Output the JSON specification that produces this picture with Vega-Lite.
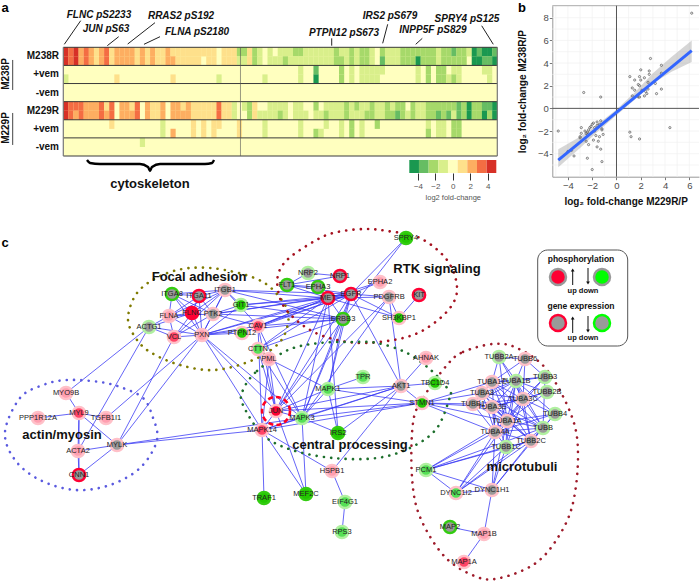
{"$schema":"https://vega.github.io/schema/vega-lite/v6.json","width":700,"height":581,"autosize":{"type":"none"},"padding":0,"background":"white","config":{"view":{"stroke":null},"font":"Liberation Sans"},
"datasets":{
"cells":[
{"c":0,"r":0,"v":4},{"c":1,"r":0,"v":3},{"c":2,"r":0,"v":4},{"c":3,"r":0,"v":2},{"c":4,"r":0,"v":3},{"c":5,"r":0,"v":2},{"c":6,"r":0,"v":1},{"c":7,"r":0,"v":2},{"c":8,"r":0,"v":3},{"c":9,"r":0,"v":1},{"c":10,"r":0,"v":2},{"c":11,"r":0,"v":2},{"c":12,"r":0,"v":2},{"c":13,"r":0,"v":2},{"c":14,"r":0,"v":1},{"c":15,"r":0,"v":2},{"c":16,"r":0,"v":1},{"c":17,"r":0,"v":2},{"c":18,"r":0,"v":1},{"c":19,"r":0,"v":1},{"c":20,"r":0,"v":2},{"c":21,"r":0,"v":1},{"c":22,"r":0,"v":1},{"c":23,"r":0,"v":1},{"c":24,"r":0,"v":1},{"c":25,"r":0,"v":1},{"c":26,"r":0,"v":1},{"c":27,"r":0,"v":1},{"c":28,"r":0,"v":1},{"c":29,"r":0,"v":1},{"c":31,"r":0,"v":1},{"c":32,"r":0,"v":1},{"c":33,"r":0,"v":1},{"c":34,"r":0,"v":-2},{"c":35,"r":0,"v":-2},{"c":36,"r":0,"v":1},{"c":37,"r":0,"v":-2},{"c":38,"r":0,"v":-1},{"c":40,"r":0,"v":-1},{"c":42,"r":0,"v":-1},{"c":43,"r":0,"v":-1},{"c":44,"r":0,"v":-1},{"c":45,"r":0,"v":-2},{"c":46,"r":0,"v":-2},{"c":47,"r":0,"v":-1},{"c":48,"r":0,"v":-1},{"c":49,"r":0,"v":-1},{"c":50,"r":0,"v":-1},{"c":51,"r":0,"v":-1},{"c":52,"r":0,"v":-1},{"c":53,"r":0,"v":-2},{"c":54,"r":0,"v":-1},{"c":55,"r":0,"v":-1},{"c":56,"r":0,"v":-2},{"c":57,"r":0,"v":-1},{"c":58,"r":0,"v":-2},{"c":59,"r":0,"v":-2},{"c":60,"r":0,"v":-1},{"c":62,"r":0,"v":-2},{"c":63,"r":0,"v":-1},{"c":64,"r":0,"v":-1},{"c":65,"r":0,"v":-1},{"c":66,"r":0,"v":-2},{"c":67,"r":0,"v":-2},{"c":68,"r":0,"v":-2},{"c":69,"r":0,"v":-2},{"c":70,"r":0,"v":-2},{"c":71,"r":0,"v":-2},{"c":72,"r":0,"v":-2},{"c":73,"r":0,"v":-1},{"c":74,"r":0,"v":-2},{"c":75,"r":0,"v":-2},{"c":76,"r":0,"v":-3},{"c":77,"r":0,"v":-2},{"c":78,"r":0,"v":-2},{"c":79,"r":0,"v":-1},{"c":80,"r":0,"v":-4},{"c":81,"r":0,"v":-3},{"c":82,"r":0,"v":-4},{"c":83,"r":0,"v":-4},{"c":84,"r":0,"v":-3},
{"c":0,"r":1,"v":4},{"c":1,"r":1,"v":3},{"c":2,"r":1,"v":4},{"c":3,"r":1,"v":2},{"c":4,"r":1,"v":3},{"c":5,"r":1,"v":2},{"c":6,"r":1,"v":1},{"c":7,"r":1,"v":2},{"c":8,"r":1,"v":3},{"c":9,"r":1,"v":1},{"c":10,"r":1,"v":2},{"c":11,"r":1,"v":2},{"c":12,"r":1,"v":2},{"c":13,"r":1,"v":2},{"c":14,"r":1,"v":1},{"c":15,"r":1,"v":2},{"c":16,"r":1,"v":1},{"c":17,"r":1,"v":2},{"c":18,"r":1,"v":1},{"c":19,"r":1,"v":1},{"c":20,"r":1,"v":2},{"c":21,"r":1,"v":2},{"c":22,"r":1,"v":1},{"c":23,"r":1,"v":1},{"c":24,"r":1,"v":1},{"c":25,"r":1,"v":1},{"c":26,"r":1,"v":1},{"c":28,"r":1,"v":1},{"c":29,"r":1,"v":1},{"c":31,"r":1,"v":1},{"c":32,"r":1,"v":1},{"c":33,"r":1,"v":1},{"c":34,"r":1,"v":-1},{"c":35,"r":1,"v":-1},{"c":36,"r":1,"v":1},{"c":37,"r":1,"v":-2},{"c":38,"r":1,"v":-1},{"c":40,"r":1,"v":-1},{"c":41,"r":1,"v":-1},{"c":42,"r":1,"v":-1},{"c":43,"r":1,"v":-2},{"c":44,"r":1,"v":-1},{"c":45,"r":1,"v":-1},{"c":46,"r":1,"v":-1},{"c":47,"r":1,"v":-1},{"c":48,"r":1,"v":-1},{"c":49,"r":1,"v":-1},{"c":50,"r":1,"v":-1},{"c":51,"r":1,"v":-1},{"c":52,"r":1,"v":-1},{"c":53,"r":1,"v":-2},{"c":54,"r":1,"v":-2},{"c":55,"r":1,"v":-1},{"c":56,"r":1,"v":-2},{"c":57,"r":1,"v":-1},{"c":58,"r":1,"v":-2},{"c":59,"r":1,"v":-2},{"c":60,"r":1,"v":-1},{"c":62,"r":1,"v":-3},{"c":63,"r":1,"v":-1},{"c":64,"r":1,"v":-1},{"c":65,"r":1,"v":-1},{"c":66,"r":1,"v":-2},{"c":67,"r":1,"v":-2},{"c":68,"r":1,"v":-2},{"c":69,"r":1,"v":-4},{"c":70,"r":1,"v":-2},{"c":71,"r":1,"v":-2},{"c":72,"r":1,"v":-2},{"c":73,"r":1,"v":-1},{"c":74,"r":1,"v":-2},{"c":75,"r":1,"v":-2},{"c":76,"r":1,"v":-2},{"c":77,"r":1,"v":-2},{"c":78,"r":1,"v":-2},{"c":80,"r":1,"v":-4},{"c":81,"r":1,"v":-4},{"c":82,"r":1,"v":-3},{"c":83,"r":1,"v":-3},{"c":84,"r":1,"v":-4},
{"c":46,"r":2,"v":-1},{"c":49,"r":2,"v":-3},{"c":54,"r":2,"v":-2},{"c":56,"r":2,"v":-1},{"c":58,"r":2,"v":-1},{"c":59,"r":2,"v":-1},{"c":60,"r":2,"v":-1},{"c":61,"r":2,"v":-1},{"c":62,"r":2,"v":-1},{"c":69,"r":2,"v":-1},{"c":71,"r":2,"v":-2},{"c":73,"r":2,"v":-2},{"c":74,"r":2,"v":-2},{"c":76,"r":2,"v":-1},{"c":77,"r":2,"v":-1},{"c":82,"r":2,"v":-1},{"c":83,"r":2,"v":-1},
{"c":0,"r":3,"v":-1},{"c":10,"r":3,"v":1},{"c":21,"r":3,"v":1},{"c":30,"r":3,"v":-1},{"c":39,"r":3,"v":-1},{"c":46,"r":3,"v":-1},{"c":49,"r":3,"v":-4},{"c":54,"r":3,"v":-2},{"c":56,"r":3,"v":-1},{"c":58,"r":3,"v":-1},{"c":59,"r":3,"v":-1},{"c":60,"r":3,"v":-1},{"c":61,"r":3,"v":-1},{"c":69,"r":3,"v":-1},{"c":71,"r":3,"v":-2},{"c":73,"r":3,"v":-2},{"c":74,"r":3,"v":-2},{"c":75,"r":3,"v":-1},{"c":76,"r":3,"v":-2},{"c":77,"r":3,"v":-1},{"c":83,"r":3,"v":-1},
{"c":0,"r":6,"v":4},{"c":1,"r":6,"v":3},{"c":2,"r":6,"v":3},{"c":3,"r":6,"v":3},{"c":4,"r":6,"v":2},{"c":5,"r":6,"v":2},{"c":6,"r":6,"v":2},{"c":7,"r":6,"v":3},{"c":8,"r":6,"v":1},{"c":9,"r":6,"v":3},{"c":11,"r":6,"v":2},{"c":12,"r":6,"v":2},{"c":13,"r":6,"v":1},{"c":14,"r":6,"v":3},{"c":16,"r":6,"v":2},{"c":17,"r":6,"v":1},{"c":18,"r":6,"v":1},{"c":19,"r":6,"v":2},{"c":21,"r":6,"v":2},{"c":22,"r":6,"v":2},{"c":23,"r":6,"v":1},{"c":24,"r":6,"v":2},{"c":25,"r":6,"v":1},{"c":26,"r":6,"v":1},{"c":27,"r":6,"v":1},{"c":28,"r":6,"v":1},{"c":29,"r":6,"v":1},{"c":30,"r":6,"v":3},{"c":31,"r":6,"v":1},{"c":32,"r":6,"v":1},{"c":33,"r":6,"v":-1},{"c":35,"r":6,"v":-1},{"c":36,"r":6,"v":-2},{"c":37,"r":6,"v":1},{"c":40,"r":6,"v":-1},{"c":41,"r":6,"v":-1},{"c":42,"r":6,"v":-1},{"c":43,"r":6,"v":-1},{"c":45,"r":6,"v":-1},{"c":46,"r":6,"v":-1},{"c":49,"r":6,"v":-2},{"c":51,"r":6,"v":-1},{"c":52,"r":6,"v":-1},{"c":53,"r":6,"v":-1},{"c":54,"r":6,"v":-1},{"c":55,"r":6,"v":-2},{"c":56,"r":6,"v":-1},{"c":57,"r":6,"v":-2},{"c":58,"r":6,"v":-1},{"c":59,"r":6,"v":-1},{"c":60,"r":6,"v":-2},{"c":61,"r":6,"v":-1},{"c":62,"r":6,"v":-1},{"c":63,"r":6,"v":-2},{"c":64,"r":6,"v":-1},{"c":65,"r":6,"v":-2},{"c":66,"r":6,"v":-2},{"c":68,"r":6,"v":-2},{"c":69,"r":6,"v":-1},{"c":70,"r":6,"v":-1},{"c":71,"r":6,"v":-2},{"c":72,"r":6,"v":-2},{"c":73,"r":6,"v":-2},{"c":74,"r":6,"v":-2},{"c":75,"r":6,"v":-2},{"c":76,"r":6,"v":-2},{"c":77,"r":6,"v":-3},{"c":78,"r":6,"v":-2},{"c":79,"r":6,"v":-4},{"c":80,"r":6,"v":-2},{"c":81,"r":6,"v":-2},{"c":82,"r":6,"v":-3},{"c":83,"r":6,"v":-3},{"c":84,"r":6,"v":-4},
{"c":0,"r":7,"v":4},{"c":1,"r":7,"v":3},{"c":2,"r":7,"v":2},{"c":3,"r":7,"v":3},{"c":4,"r":7,"v":2},{"c":5,"r":7,"v":2},{"c":6,"r":7,"v":2},{"c":7,"r":7,"v":3},{"c":8,"r":7,"v":2},{"c":9,"r":7,"v":3},{"c":11,"r":7,"v":2},{"c":12,"r":7,"v":2},{"c":13,"r":7,"v":2},{"c":14,"r":7,"v":3},{"c":16,"r":7,"v":2},{"c":17,"r":7,"v":1},{"c":18,"r":7,"v":1},{"c":19,"r":7,"v":2},{"c":21,"r":7,"v":2},{"c":22,"r":7,"v":2},{"c":23,"r":7,"v":2},{"c":24,"r":7,"v":2},{"c":25,"r":7,"v":1},{"c":26,"r":7,"v":1},{"c":27,"r":7,"v":1},{"c":28,"r":7,"v":1},{"c":29,"r":7,"v":1},{"c":30,"r":7,"v":3},{"c":31,"r":7,"v":1},{"c":32,"r":7,"v":1},{"c":33,"r":7,"v":-1},{"c":36,"r":7,"v":-2},{"c":37,"r":7,"v":1},{"c":38,"r":7,"v":-1},{"c":39,"r":7,"v":-1},{"c":40,"r":7,"v":-1},{"c":41,"r":7,"v":-1},{"c":42,"r":7,"v":-2},{"c":43,"r":7,"v":-1},{"c":45,"r":7,"v":-1},{"c":46,"r":7,"v":-1},{"c":47,"r":7,"v":-1},{"c":49,"r":7,"v":-1},{"c":50,"r":7,"v":-1},{"c":51,"r":7,"v":-2},{"c":52,"r":7,"v":-1},{"c":53,"r":7,"v":-1},{"c":54,"r":7,"v":-1},{"c":55,"r":7,"v":-2},{"c":56,"r":7,"v":-1},{"c":57,"r":7,"v":-1},{"c":58,"r":7,"v":-1},{"c":59,"r":7,"v":-2},{"c":60,"r":7,"v":-2},{"c":61,"r":7,"v":-1},{"c":62,"r":7,"v":-1},{"c":63,"r":7,"v":-2},{"c":64,"r":7,"v":-2},{"c":65,"r":7,"v":-3},{"c":66,"r":7,"v":-2},{"c":67,"r":7,"v":-1},{"c":68,"r":7,"v":-2},{"c":69,"r":7,"v":-1},{"c":70,"r":7,"v":-1},{"c":71,"r":7,"v":-2},{"c":72,"r":7,"v":-2},{"c":73,"r":7,"v":-3},{"c":74,"r":7,"v":-2},{"c":75,"r":7,"v":-3},{"c":76,"r":7,"v":-1},{"c":77,"r":7,"v":-3},{"c":78,"r":7,"v":-2},{"c":79,"r":7,"v":-4},{"c":80,"r":7,"v":-2},{"c":81,"r":7,"v":-2},{"c":82,"r":7,"v":-4},{"c":83,"r":7,"v":-2},{"c":84,"r":7,"v":-4},
{"c":9,"r":8,"v":1},{"c":19,"r":8,"v":-1},{"c":25,"r":8,"v":1},{"c":27,"r":8,"v":1},{"c":29,"r":8,"v":1},{"c":30,"r":8,"v":1},{"c":34,"r":8,"v":1},{"c":39,"r":8,"v":-1},{"c":46,"r":8,"v":-1},{"c":51,"r":8,"v":-1},{"c":54,"r":8,"v":-1},{"c":56,"r":8,"v":-2},{"c":58,"r":8,"v":-1},{"c":61,"r":8,"v":-2},{"c":71,"r":8,"v":-1},{"c":73,"r":8,"v":-1},{"c":74,"r":8,"v":-1},{"c":76,"r":8,"v":-2},{"c":77,"r":8,"v":-2},
{"c":19,"r":9,"v":-1},{"c":21,"r":9,"v":2},{"c":25,"r":9,"v":1},{"c":27,"r":9,"v":1},{"c":29,"r":9,"v":1},{"c":34,"r":9,"v":1},{"c":39,"r":9,"v":-1},{"c":46,"r":9,"v":-1},{"c":49,"r":9,"v":-2},{"c":50,"r":9,"v":-1},{"c":54,"r":9,"v":-1},{"c":56,"r":9,"v":-2},{"c":58,"r":9,"v":-1},{"c":71,"r":9,"v":-2},{"c":73,"r":9,"v":-1},{"c":74,"r":9,"v":-1},{"c":76,"r":9,"v":-2},{"c":77,"r":9,"v":-2},
{"c":15,"r":10,"v":-1}],
"nodes":[
{"n":"ITGA8","x":172,"y":294,"p":"n","e":"G"},{"n":"ITGA11","x":199,"y":296,"p":"n","e":"R"},{"n":"ITGB1","x":225,"y":290,"p":"n","e":"r"},{"n":"GIT1","x":241,"y":305,"p":"G","e":"g"},{"n":"FLNA","x":169,"y":316,"p":"k","e":"r"},{"n":"FLNC","x":192,"y":313,"p":"R","e":"R"},{"n":"PTK2","x":213,"y":314,"p":"n","e":"r"},{"n":"ACTG1","x":149,"y":327,"p":"n","e":"g"},{"n":"VCL","x":174,"y":337,"p":"r","e":"r"},{"n":"PXN","x":202,"y":335,"p":"k","e":"r"},{"n":"PTPN12","x":242,"y":333,"p":"G","e":"r"},{"n":"CAV1","x":258,"y":326,"p":"r","e":"r"},{"n":"CTTN","x":258,"y":349,"p":"g","e":"r"},{"n":"PML","x":269,"y":359,"p":"k","e":"r"},
{"n":"MYO9B","x":66,"y":393,"p":"k","e":"r"},{"n":"PPP1R12A","x":38,"y":418,"p":"k","e":"r"},{"n":"MYL9","x":79,"y":413,"p":"r","e":"r"},{"n":"TGFB1I1","x":106,"y":418,"p":"k","e":"r"},{"n":"ACTA2","x":78,"y":451,"p":"k","e":"r"},{"n":"MYLK","x":117,"y":445,"p":"n","e":"r"},{"n":"CNN1","x":79,"y":475,"p":"n","e":"R"},
{"n":"FLT1","x":287,"y":285,"p":"n","e":"G"},{"n":"NRP2","x":308,"y":273,"p":"n","e":"g"},{"n":"NRP1","x":340,"y":276,"p":"n","e":"R"},{"n":"EPHA3","x":318,"y":287,"p":"n","e":"G"},{"n":"MET","x":328,"y":298,"p":"n","e":"R"},{"n":"EGFR","x":351,"y":294,"p":"n","e":"R"},{"n":"EPHA2","x":380,"y":282,"p":"k","e":"r"},{"n":"PDGFRB","x":389,"y":297,"p":"n","e":"r"},{"n":"KIT","x":419,"y":295,"p":"n","e":"R"},{"n":"SH3KBP1","x":399,"y":318,"p":"G","e":"r"},{"n":"ERBB3","x":343,"y":319,"p":"n","e":"G"},{"n":"SPRY4","x":406,"y":238,"p":"G","e":"G"},
{"n":"AHNAK","x":426,"y":358,"p":"k","e":"r"},{"n":"TPR","x":363,"y":377,"p":"g","e":"g"},{"n":"MAPK1","x":328,"y":389,"p":"g","e":"g"},{"n":"AKT1","x":401,"y":386,"p":"n","e":"r"},{"n":"TBC1D4","x":435,"y":383,"p":"G","e":"g"},{"n":"JUN","x":276,"y":411,"p":"R","e":"r"},{"n":"MAPK3","x":302,"y":418,"p":"g","e":"g"},{"n":"STMN1","x":422,"y":403,"p":"G","e":"r"},{"n":"MAPK14","x":262,"y":430,"p":"r","e":"r"},{"n":"IRS2","x":338,"y":433,"p":"G","e":"G"},{"n":"HSPB1","x":332,"y":471,"p":"k","e":"r"},{"n":"TRAF1","x":264,"y":498,"p":"G","e":"G"},{"n":"MEF2C","x":306,"y":494,"p":"G","e":"G"},{"n":"EIF4G1","x":345,"y":502,"p":"g","e":"g"},{"n":"RPS3","x":342,"y":532,"p":"g","e":"g"},
{"n":"PCM1","x":426,"y":470,"p":"g","e":"g"},{"n":"DYNC1I2","x":456,"y":493,"p":"g","e":"r"},{"n":"DYNC1H1","x":492,"y":490,"p":"n","e":"r"},{"n":"MAP2","x":450,"y":527,"p":"n","e":"G"},{"n":"MAP1B","x":484,"y":534,"p":"k","e":"r"},{"n":"MAP1A","x":464,"y":562,"p":"r","e":"r"},
{"n":"TUBB2A","x":499,"y":357,"p":"n","e":"g"},{"n":"TUBB6","x":525,"y":359,"p":"n","e":"r"},{"n":"TUBB3","x":545,"y":377,"p":"n","e":"g"},{"n":"TUBA1C","x":492,"y":382,"p":"n","e":"r"},{"n":"TUBA1B","x":516,"y":381,"p":"n","e":"g"},{"n":"TUBB2B","x":547,"y":392,"p":"n","e":"g"},{"n":"TUBA8","x":482,"y":393,"p":"n","e":"r"},{"n":"TUBB1","x":473,"y":404,"p":"n","e":"r"},{"n":"TUBA3E","x":492,"y":407,"p":"n","e":"r"},{"n":"TUBA3C","x":523,"y":399,"p":"n","e":"r"},{"n":"TUBB4","x":555,"y":414,"p":"n","e":"g"},{"n":"TUBA1A","x":507,"y":421,"p":"n","e":"r"},{"n":"TUBB","x":543,"y":428,"p":"n","e":"g"},{"n":"TUBA4A","x":495,"y":432,"p":"n","e":"r"},{"n":"TUBB2C","x":531,"y":441,"p":"n","e":"r"},{"n":"TUBB1C","x":506,"y":447,"p":"n","e":"g"}],
"edges":[
{"a":"ITGA8","b":"ITGA11"},{"a":"ITGA8","b":"ITGB1"},{"a":"ITGA11","b":"ITGB1"},{"a":"ITGA8","b":"FLNA"},{"a":"ITGA8","b":"FLNC"},{"a":"ITGA8","b":"PTK2"},{"a":"ITGA8","b":"PXN"},{"a":"ITGA11","b":"FLNA"},{"a":"ITGA11","b":"FLNC"},{"a":"ITGA11","b":"PTK2"},{"a":"ITGA11","b":"PXN"},{"a":"ITGB1","b":"FLNA"},{"a":"ITGB1","b":"FLNC"},{"a":"ITGB1","b":"PTK2"},{"a":"ITGB1","b":"PXN"},{"a":"ITGB1","b":"VCL"},{"a":"ITGB1","b":"MET"},{"a":"ITGB1","b":"EGFR"},{"a":"ITGB1","b":"ERBB3"},{"a":"ITGB1","b":"CAV1"},{"a":"ITGB1","b":"GIT1"},{"a":"FLNA","b":"FLNC"},{"a":"FLNA","b":"PTK2"},{"a":"FLNA","b":"PXN"},{"a":"FLNA","b":"VCL"},{"a":"FLNA","b":"ACTG1"},{"a":"FLNC","b":"PXN"},{"a":"FLNC","b":"VCL"},{"a":"FLNC","b":"ACTG1"},{"a":"PTK2","b":"PXN"},{"a":"PTK2","b":"VCL"},{"a":"PTK2","b":"GIT1"},{"a":"PTK2","b":"EGFR"},{"a":"PTK2","b":"MET"},{"a":"PTK2","b":"ERBB3"},{"a":"PTK2","b":"CAV1"},{"a":"PXN","b":"VCL"},{"a":"PXN","b":"GIT1"},{"a":"PXN","b":"PTPN12"},{"a":"PXN","b":"CAV1"},{"a":"PXN","b":"MET"},{"a":"PXN","b":"EGFR"},{"a":"PXN","b":"ERBB3"},{"a":"PXN","b":"ACTG1"},{"a":"VCL","b":"ACTG1"},{"a":"ACTG1","b":"MYO9B"},{"a":"ACTG1","b":"ACTA2"},{"a":"VCL","b":"MYLK"},{"a":"PXN","b":"MAPK14"},{"a":"PXN","b":"MYLK"},{"a":"PXN","b":"JUN"},{"a":"PXN","b":"MAPK3"},{"a":"PTPN12","b":"EGFR"},{"a":"PTPN12","b":"MET"},{"a":"CAV1","b":"MET"},{"a":"CAV1","b":"EGFR"},{"a":"CAV1","b":"ERBB3"},{"a":"CTTN","b":"EGFR"},{"a":"CTTN","b":"MET"},{"a":"CTTN","b":"ERBB3"},{"a":"CTTN","b":"MAPK3"},{"a":"CTTN","b":"JUN"},{"a":"CAV1","b":"MAPK3"},{"a":"CAV1","b":"JUN"},{"a":"CAV1","b":"MAPK14"},{"a":"PML","b":"JUN"},{"a":"PML","b":"MAPK1"},{"a":"PML","b":"MAPK14"},{"a":"GIT1","b":"MET"},{"a":"GIT1","b":"EGFR"},{"a":"GIT1","b":"ERBB3"},{"a":"ERBB3","b":"MAPK1"},{"a":"ERBB3","b":"MAPK3"},{"a":"ERBB3","b":"JUN"},{"a":"MET","b":"JUN"},{"a":"MET","b":"MAPK3"},{"a":"MET","b":"IRS2"},{"a":"MET","b":"ERBB3"},{"a":"EGFR","b":"ERBB3"},{"a":"EGFR","b":"MET"},{"a":"EGFR","b":"MAPK3"},{"a":"EGFR","b":"MAPK1"},{"a":"EGFR","b":"JUN"},{"a":"EGFR","b":"AKT1"},{"a":"EGFR","b":"PDGFRB"},{"a":"EGFR","b":"SH3KBP1"},{"a":"MET","b":"SH3KBP1"},{"a":"EPHA2","b":"MET"},{"a":"EPHA2","b":"EGFR"},{"a":"FLT1","b":"NRP2"},{"a":"FLT1","b":"NRP1"},{"a":"FLT1","b":"MET"},{"a":"FLT1","b":"EGFR"},{"a":"FLT1","b":"EPHA3"},{"a":"NRP2","b":"NRP1"},{"a":"EPHA3","b":"MET"},{"a":"MET","b":"PDGFRB"},{"a":"PDGFRB","b":"SH3KBP1"},{"a":"PDGFRB","b":"JUN"},{"a":"PDGFRB","b":"MAPK3"},{"a":"PDGFRB","b":"AKT1"},{"a":"KIT","b":"SH3KBP1"},{"a":"SPRY4","b":"ERBB3"},{"a":"SPRY4","b":"EGFR"},{"a":"AHNAK","b":"AKT1"},{"a":"AKT1","b":"MAPK1"},{"a":"AKT1","b":"MAPK3"},{"a":"AKT1","b":"JUN"},{"a":"AKT1","b":"TBC1D4"},{"a":"AKT1","b":"STMN1"},{"a":"AKT1","b":"IRS2"},{"a":"AKT1","b":"MAPK14"},{"a":"TPR","b":"MAPK1"},{"a":"MAPK1","b":"MAPK3"},{"a":"MAPK1","b":"STMN1"},{"a":"MAPK1","b":"JUN"},{"a":"MAPK1","b":"IRS2"},{"a":"MAPK3","b":"JUN"},{"a":"MAPK3","b":"MAPK14"},{"a":"MAPK3","b":"STMN1"},{"a":"MAPK3","b":"IRS2"},{"a":"MAPK3","b":"MEF2C"},{"a":"JUN","b":"MAPK14"},{"a":"JUN","b":"MEF2C"},{"a":"JUN","b":"STMN1"},{"a":"MAPK14","b":"STMN1"},{"a":"MAPK14","b":"HSPB1"},{"a":"MAPK14","b":"MEF2C"},{"a":"MAPK14","b":"TRAF1"},{"a":"AKT1","b":"HSPB1"},{"a":"HSPB1","b":"EIF4G1"},{"a":"EIF4G1","b":"RPS3"},{"a":"MYLK","b":"MAPK14"},{"a":"MYLK","b":"MAPK3"},{"a":"MYO9B","b":"MYL9"},{"a":"PPP1R12A","b":"MYL9"},{"a":"MYL9","b":"MYLK"},{"a":"MYL9","b":"ACTA2"},{"a":"MYL9","b":"CNN1"},{"a":"MYL9","b":"TGFB1I1"},{"a":"ACTA2","b":"CNN1"},{"a":"ACTA2","b":"MYLK"},{"a":"MYLK","b":"CNN1"},{"a":"TGFB1I1","b":"PXN"},{"a":"STMN1","b":"TUBB1"},{"a":"STMN1","b":"TUBA3E"},{"a":"STMN1","b":"TUBA8"},{"a":"STMN1","b":"TUBA1A"},{"a":"STMN1","b":"TUBA1C"},{"a":"STMN1","b":"TUBA4A"},
{"a":"PCM1","b":"TUBA4A"},{"a":"PCM1","b":"TUBB1C"},{"a":"PCM1","b":"TUBB2C"},{"a":"PCM1","b":"TUBA1A"},{"a":"PCM1","b":"TUBB"},{"a":"DYNC1I2","b":"TUBA4A"},{"a":"DYNC1I2","b":"TUBB1C"},{"a":"DYNC1I2","b":"TUBB2C"},{"a":"DYNC1I2","b":"TUBA1A"},{"a":"DYNC1I2","b":"TUBB"},{"a":"DYNC1H1","b":"TUBA4A"},{"a":"DYNC1H1","b":"TUBB2C"},{"a":"DYNC1H1","b":"TUBB1C"},{"a":"DYNC1H1","b":"TUBA1A"},{"a":"DYNC1H1","b":"TUBB"},{"a":"PCM1","b":"DYNC1I2"},{"a":"PCM1","b":"DYNC1H1"},{"a":"DYNC1I2","b":"DYNC1H1"},{"a":"DYNC1H1","b":"MAP1B"},{"a":"MAP2","b":"MAP1B"},{"a":"MAP1B","b":"MAP1A"},
{"a":"TUBB2A","b":"TUBB6"},{"a":"TUBB2A","b":"TUBA1C"},{"a":"TUBB2A","b":"TUBA1B"},{"a":"TUBB2A","b":"TUBA3C"},{"a":"TUBB2A","b":"TUBA1A"},{"a":"TUBB6","b":"TUBA1B"},{"a":"TUBB6","b":"TUBA3C"},{"a":"TUBB6","b":"TUBA1C"},{"a":"TUBB3","b":"TUBA1B"},{"a":"TUBB3","b":"TUBA3C"},{"a":"TUBB3","b":"TUBA1A"},{"a":"TUBB3","b":"TUBA1C"},{"a":"TUBB2B","b":"TUBA1B"},{"a":"TUBB2B","b":"TUBA3C"},{"a":"TUBB2B","b":"TUBA1A"},{"a":"TUBB2B","b":"TUBA3E"},{"a":"TUBB4","b":"TUBA3C"},{"a":"TUBB4","b":"TUBA1A"},{"a":"TUBB4","b":"TUBA1B"},{"a":"TUBB4","b":"TUBA4A"},{"a":"TUBB","b":"TUBA3C"},{"a":"TUBB","b":"TUBA1A"},{"a":"TUBB","b":"TUBA1B"},{"a":"TUBB","b":"TUBA4A"},{"a":"TUBB","b":"TUBA3E"},{"a":"TUBB","b":"TUBA1C"},{"a":"TUBB2C","b":"TUBA3C"},{"a":"TUBB2C","b":"TUBA1A"},{"a":"TUBB2C","b":"TUBA1B"},{"a":"TUBB2C","b":"TUBA4A"},{"a":"TUBB2C","b":"TUBA3E"},{"a":"TUBB2C","b":"TUBA1C"},{"a":"TUBB2C","b":"TUBA8"},{"a":"TUBB1C","b":"TUBA3C"},{"a":"TUBB1C","b":"TUBA1A"},{"a":"TUBB1C","b":"TUBA1B"},{"a":"TUBB1C","b":"TUBA4A"},{"a":"TUBB1C","b":"TUBA3E"},{"a":"TUBB1","b":"TUBA3C"},{"a":"TUBB1","b":"TUBA1A"},{"a":"TUBB1","b":"TUBA1B"},{"a":"TUBB1","b":"TUBA4A"},{"a":"TUBB1","b":"TUBA3E"},{"a":"TUBB1","b":"TUBA1C"},{"a":"TUBB1","b":"TUBA8"},{"a":"TUBA8","b":"TUBA1B"},{"a":"TUBA8","b":"TUBA3C"},{"a":"TUBA8","b":"TUBA1A"},{"a":"TUBA8","b":"TUBA4A"},{"a":"TUBA8","b":"TUBB"},{"a":"TUBA1C","b":"TUBA1B"},{"a":"TUBA1C","b":"TUBA3C"},{"a":"TUBA1C","b":"TUBA1A"},{"a":"TUBA1C","b":"TUBA4A"},{"a":"TUBA3E","b":"TUBA1B"},{"a":"TUBA3E","b":"TUBA3C"},{"a":"TUBA3E","b":"TUBA1A"},{"a":"TUBA3E","b":"TUBA4A"},{"a":"TUBA1B","b":"TUBA3C"},{"a":"TUBA1B","b":"TUBA1A"},{"a":"TUBA1B","b":"TUBA4A"},{"a":"TUBA3C","b":"TUBA1A"},{"a":"TUBA3C","b":"TUBA4A"},{"a":"TUBA1A","b":"TUBA4A"},{"a":"TUBB4","b":"TUBB"},{"a":"TUBB","b":"TUBB2C"},{"a":"TUBB2C","b":"TUBB1C"},{"a":"TUBB4","b":"TUBB2C"},{"a":"TUBB3","b":"TUBB"},{"a":"TUBB6","b":"TUBB3"}],
"pts":[{"x":6.2,"y":8.4},{"x":2.8,"y":4.4},{"x":-2.7,"y":1.4},{"x":-1.3,"y":1},{"x":4.4,"y":-1.7},{"x":1.1,"y":-2.1},{"x":1.2,"y":-2.5},{"x":1.9,"y":-2.7},{"x":-4.8,"y":-2},{"x":-3.5,"y":-4.2},{"x":-2.4,"y":-4.4},{"x":-1.2,"y":-4.7},{"x":-2,"y":-5.4},{"x":-1.3,"y":-3.6},{"x":-1.6,"y":-3.4},{"x":1.1,"y":2.8},{"x":1.5,"y":2.5},{"x":1.9,"y":2.8},{"x":2,"y":3.4},{"x":2,"y":2.5},{"x":2.3,"y":2.7},{"x":2.7,"y":3.3},{"x":2.7,"y":3},{"x":3.7,"y":3.8},{"x":3.7,"y":3.1},{"x":2.6,"y":2.3},{"x":1.3,"y":1.8},{"x":1.5,"y":1.6},{"x":1.8,"y":2.1},{"x":1.9,"y":2},{"x":2.4,"y":1.5},{"x":2.6,"y":1.7},{"x":3.2,"y":2.2},{"x":3.3,"y":1.3},{"x":3.7,"y":1.7},{"x":1.3,"y":1.1},{"x":1.8,"y":1},{"x":1.9,"y":1},{"x":2.3,"y":1.1},{"x":2.5,"y":1.3},{"x":2.1,"y":1.6},{"x":-3,"y":-2.5},{"x":-2.9,"y":-2.2},{"x":-2.9,"y":-1.7},{"x":-2.4,"y":-2.1},{"x":-2.5,"y":-2.9},{"x":-2.3,"y":-3.2},{"x":-2.3,"y":-1.9},{"x":-2.2,"y":-1.7},{"x":-2.1,"y":-1.6},{"x":-1.9,"y":-1.3},{"x":-1.8,"y":-1.7},{"x":-1.6,"y":-1.2},{"x":-1.3,"y":-1.1},{"x":-1.2,"y":-1.8},{"x":-1.2,"y":-1.9},{"x":-1.1,"y":-2.3},{"x":-1.4,"y":-2.5},{"x":-1.5,"y":-2.9},{"x":-1.7,"y":-2.4},{"x":-1.8,"y":-2},{"x":-1.9,"y":-2.8},{"x":-2.6,"y":-2},{"x":-2.4,"y":-2.3},{"x":-1.6,"y":-1.5},{"x":-1.4,"y":-1.4},{"x":-3.7,"y":-3.7},{"x":-4,"y":-3.8},{"x":-2,"y":-1.4},{"x":-2.5,"y":-2.2},{"x":-3,"y":-2.6}]
},
"resolve":{"scale":{"x":"independent","y":"independent"}},
"layer":[
{"encoding":{"x":{"field":"c","type":"quantitative","axis":null,"scale":{"domain":[-0.5,84.5],"range":[63.3,497.3],"nice":false,"zero":false}},"y":{"field":"r","type":"quantitative","axis":null,"scale":{"domain":[-0.5,11.5],"range":[47.3,156],"nice":false,"zero":false}}},
"layer":[
{"data":{"values":[{"c":-0.5,"c2":84.5,"r":-0.5,"r2":11.5}]},"mark":{"type":"rect","fill":"#ffffbf"},"encoding":{"x2":{"field":"c2"},"y2":{"field":"r2"}}},
{"data":{"name":"cells"},"mark":{"type":"rect","width":5.2,"height":9.2},"encoding":{"color":{"field":"v","type":"ordinal","legend":null,"scale":{"domain":[-4,-3,-2,-1,0,1,2,3,4],"range":["#1a9850","#66bd63","#a6d96a","#d9ef8b","#ffffbf","#fee08b","#fdae61","#f46d43","#d73027"]}}}},
{"data":{"values":[{"c":-0.5,"c2":84.5,"r":-0.5},{"c":-0.5,"c2":84.5,"r":1.5},{"c":-0.5,"c2":84.5,"r":3.5},{"c":-0.5,"c2":84.5,"r":5.5},{"c":-0.5,"c2":84.5,"r":7.5},{"c":-0.5,"c2":84.5,"r":9.5},{"c":-0.5,"c2":84.5,"r":11.5}]},"mark":{"type":"rule","stroke":"#3a3a3a","strokeWidth":1},"encoding":{"x2":{"field":"c2"}}},
{"data":{"values":[{"c":-0.5,"r":-0.5,"r2":11.5},{"c":84.5,"r":-0.5,"r2":11.5}]},"mark":{"type":"rule","stroke":"#777","strokeWidth":1.2},"encoding":{"y2":{"field":"r2"}}},
{"data":{"values":[{"c":34.2,"r":-0.5,"r2":11.5}]},"mark":{"type":"rule","stroke":"#555","strokeWidth":1,"opacity":0.6},"encoding":{"y2":{"field":"r2"}}},
{"data":{"values":[{"c":-10.41,"r":0.9,"r2":4.21},{"c":-10.41,"r":6.75,"r2":10.28}]},"mark":{"type":"rule","stroke":"#444","strokeWidth":1},"encoding":{"y2":{"field":"r2"}}},
{"data":{"values":[{"c":2.91,"r":-3.44,"c2":-0.3,"r2":-0.83},{"c":10.35,"r":-1.67,"c2":8.12,"r2":-0.68},{"c":17.46,"r":-3.22,"c2":12.11,"r2":-0.86},{"c":18.44,"r":-1.67,"c2":15.3,"r2":-0.83},{"c":52.07,"r":-1.49,"c2":52.07,"r2":-0.68},{"c":63.03,"r":-3.04,"c2":62.05,"r2":-0.94},{"c":69.81,"r":-1.49,"c2":68.52,"r2":-0.83},{"c":81.44,"r":-2.88,"c2":83.71,"r2":-0.83}]},"mark":{"type":"rule","stroke":"#222","strokeWidth":1},"encoding":{"x2":{"field":"c2"},"y2":{"field":"r2"}}},
{"data":{"values":[{"c":6.49,"r":-4.12,"t":"FLNC pS2233"},{"c":7.86,"r":-2.52,"t":"JUN pS63"},{"c":22.55,"r":-3.95,"t":"RRAS2 pS192"},{"c":25.68,"r":-2.19,"t":"FLNA pS2180"},{"c":54.47,"r":-2.08,"t":"PTPN12 pS673"},{"c":63.48,"r":-3.95,"t":"IRS2 pS679"},{"c":71.9,"r":-2.41,"t":"INPP5F pS829"},{"c":78.56,"r":-3.62,"t":"SPRY4 pS125"}]},"mark":{"type":"text","fontSize":10,"fontWeight":"bold","fontStyle":"italic","fill":"#111","baseline":"middle"},"encoding":{"text":{"field":"t"}}},
{"data":{"values":[{"c":-1.34,"r":0.5,"t":"M238R"},{"c":-1.34,"r":2.5,"t":"+vem"},{"c":-1.34,"r":4.5,"t":"-vem"},{"c":-1.34,"r":6.5,"t":"M229R"},{"c":-1.34,"r":8.5,"t":"+vem"},{"c":-1.34,"r":10.5,"t":"-vem"}]},"mark":{"type":"text","fontSize":10,"fontWeight":"bold","fill":"#111","align":"right","baseline":"middle"},"encoding":{"text":{"field":"t"}}},
{"data":{"values":[{"c":-11.72,"r":2.45,"t":"M238P"},{"c":-11.72,"r":8.41,"t":"M229P"}]},"mark":{"type":"text","fontSize":10,"fontWeight":"bold","fill":"#111","angle":270,"align":"center","baseline":"middle"},"encoding":{"text":{"field":"t"}}},
{"data":{"values":[{"o":0,"c":4.14,"r":11.94},{"o":1,"c":4.73,"r":12.27},{"o":2,"c":6.69,"r":12.38},{"o":3,"c":14.52,"r":12.38},{"o":4,"c":16.09,"r":12.71},{"o":5,"c":16.48,"r":13.15},{"o":6,"c":16.87,"r":12.71},{"o":7,"c":18.44,"r":12.38},{"o":8,"c":27.25,"r":12.38},{"o":9,"c":28.63,"r":12.27},{"o":10,"c":29.02,"r":11.94}]},"mark":{"type":"line","stroke":"#000","strokeWidth":2.4,"interpolate":"monotone"},"encoding":{"order":{"field":"o"}}},
{"data":{"values":[{"c":16.48,"r":14.59,"t":"cytoskeleton"}]},"mark":{"type":"text","fontSize":13,"fontWeight":"bold","fill":"#111","baseline":"middle"},"encoding":{"text":{"field":"t"}}}
]},
{"data":{"values":[{"a":-5,"b":-3.889,"lo":0,"hi":1,"v":-4},{"a":-3.889,"b":-2.778,"lo":0,"hi":1,"v":-3},{"a":-2.778,"b":-1.667,"lo":0,"hi":1,"v":-2},{"a":-1.667,"b":-0.556,"lo":0,"hi":1,"v":-1},{"a":-0.556,"b":0.556,"lo":0,"hi":1,"v":0},{"a":0.556,"b":1.667,"lo":0,"hi":1,"v":1},{"a":1.667,"b":2.778,"lo":0,"hi":1,"v":2},{"a":2.778,"b":3.889,"lo":0,"hi":1,"v":3},{"a":3.889,"b":5,"lo":0,"hi":1,"v":4}]},
"mark":{"type":"rect"},
"encoding":{"x":{"field":"a","type":"quantitative","scale":{"domain":[-5,5],"range":[409.3,496.3],"nice":false,"zero":false},"axis":{"orient":"bottom","offset":-408,"values":[-4,-2,0,2,4],"domain":false,"grid":false,"tickSize":7,"tickColor":"#333","labelFontSize":8,"labelColor":"#555","labelPadding":2,"title":"log2 fold-change","titleFontSize":7.5,"titleFontWeight":"normal","titleColor":"#555","titlePadding":3}},"x2":{"field":"b"},"y":{"field":"lo","type":"quantitative","axis":null,"scale":{"domain":[0,1],"range":[173,160],"nice":false,"zero":false}},"y2":{"field":"hi"},"color":{"field":"v","type":"ordinal","legend":null}}},
{"encoding":{"x":{"field":"x","type":"quantitative","scale":{"domain":[-5.29,6.8],"range":[552.3,699],"nice":false,"zero":false},"axis":{"orient":"bottom","offset":-404.3,"values":[-4,-2,0,2,4,6],"grid":false,"domainColor":"#999","tickColor":"#777","tickSize":3,"labelFontSize":9.5,"labelColor":"#4d4d4d","labelPadding":1,"title":"log₂ fold-change M229R/P","titleFontSize":10,"titleFontWeight":"bold","titleColor":"#111","titlePadding":6}},"y":{"field":"y","type":"quantitative","scale":{"domain":[-6.03,9.06],"range":[176.7,5.7],"nice":false,"zero":false},"axis":{"orient":"left","offset":-552.3,"values":[-4,-2,0,2,4,6,8],"grid":false,"domainColor":"#999","tickColor":"#777","tickSize":3,"labelFontSize":9.5,"labelColor":"#4d4d4d","labelPadding":1,"title":"log₂ fold-change M238R/P","titleFontSize":10,"titleFontWeight":"bold","titleColor":"#111","titlePadding":10}}},
"layer":[
{"data":{"values":[{"x":-5,"y":-6.03,"y2":9.06},{"x":-4,"y":-6.03,"y2":9.06},{"x":-3,"y":-6.03,"y2":9.06},{"x":-2,"y":-6.03,"y2":9.06},{"x":-1,"y":-6.03,"y2":9.06},{"x":1,"y":-6.03,"y2":9.06},{"x":2,"y":-6.03,"y2":9.06},{"x":3,"y":-6.03,"y2":9.06},{"x":4,"y":-6.03,"y2":9.06},{"x":5,"y":-6.03,"y2":9.06},{"x":6,"y":-6.03,"y2":9.06}]},"mark":{"type":"rule","stroke":"#f0f0f0","strokeWidth":0.7},"encoding":{"y2":{"field":"y2"}}},
{"data":{"values":[{"x":-5.29,"x2":6.8,"y":-5},{"x":-5.29,"x2":6.8,"y":-4},{"x":-5.29,"x2":6.8,"y":-3},{"x":-5.29,"x2":6.8,"y":-2},{"x":-5.29,"x2":6.8,"y":-1},{"x":-5.29,"x2":6.8,"y":1},{"x":-5.29,"x2":6.8,"y":2},{"x":-5.29,"x2":6.8,"y":3},{"x":-5.29,"x2":6.8,"y":4},{"x":-5.29,"x2":6.8,"y":5},{"x":-5.29,"x2":6.8,"y":6},{"x":-5.29,"x2":6.8,"y":7},{"x":-5.29,"x2":6.8,"y":8}]},"mark":{"type":"rule","stroke":"#f0f0f0","strokeWidth":0.7},"encoding":{"x2":{"field":"x2"}}},
{"data":{"values":[{"x":-5.29,"x2":6.8,"y":9.06}]},"mark":{"type":"rule","stroke":"#aaa","strokeWidth":1},"encoding":{"x2":{"field":"x2"}}},
{"data":{"values":[{"x":-4.8,"y":-5.2,"y2":-3.6},{"x":-3,"y":-3.5,"y2":-2.5},{"x":-1.5,"y":-2,"y2":-1.35},{"x":0,"y":-0.6,"y2":-0.1},{"x":1.5,"y":0.75,"y2":1.4},{"x":3,"y":2.2,"y2":3.1},{"x":4.5,"y":3.2,"y2":4.5},{"x":6.2,"y":4.1,"y2":6}]},"mark":{"type":"area","fill":"#999","opacity":0.4},"encoding":{"y2":{"field":"y2"}}},
{"data":{"values":[{"x":0,"y":-6.03,"y2":9.06}]},"mark":{"type":"rule","stroke":"#555","strokeWidth":1},"encoding":{"y2":{"field":"y2"}}},
{"data":{"values":[{"x":-5.29,"x2":6.8,"y":0}]},"mark":{"type":"rule","stroke":"#555","strokeWidth":1},"encoding":{"x2":{"field":"x2"}}},
{"data":{"name":"pts"},"mark":{"type":"point","shape":"circle","size":5,"stroke":"#444","strokeWidth":0.6,"fill":"#ddd","fillOpacity":0.5,"opacity":1}},
{"data":{"values":[{"x":-4.8,"y":-4.57},{"x":6.2,"y":5.1}]},"mark":{"type":"line","stroke":"#3366ff","strokeWidth":3}}
]},
{"encoding":{"x":{"field":"x","type":"quantitative","axis":null,"scale":{"domain":[0,700],"range":[0,700],"nice":false,"zero":false}},"y":{"field":"y","type":"quantitative","axis":null,"scale":{"domain":[0,581],"range":[0,581],"nice":false,"zero":false}}},
"layer":[
{"data":{"name":"edges"},"transform":[{"lookup":"a","from":{"data":{"name":"nodes"},"key":"n","fields":["x","y"]},"as":["xa","ya"]},{"lookup":"b","from":{"data":{"name":"nodes"},"key":"n","fields":["x","y"]},"as":["xb","yb"]}],"mark":{"type":"rule","stroke":"#3434f4","strokeWidth":0.9,"opacity":0.85},"encoding":{"x":{"field":"xa","type":"quantitative"},"y":{"field":"ya","type":"quantitative"},"x2":{"field":"xb"},"y2":{"field":"yb"}}},
{"data":{"values":[{"o":0,"x":128,"y":318},{"o":1,"x":137,"y":293},{"o":2,"x":160,"y":276},{"o":3,"x":190,"y":268},{"o":4,"x":225,"y":270},{"o":5,"x":263,"y":282},{"o":6,"x":285,"y":305},{"o":7,"x":288,"y":323},{"o":8,"x":279,"y":343},{"o":9,"x":253,"y":360},{"o":10,"x":215,"y":370},{"o":11,"x":180,"y":365},{"o":12,"x":150,"y":352},{"o":13,"x":135,"y":337}]},"mark":{"type":"line","interpolate":"cardinal-closed","stroke":"#7f7a00","strokeWidth":2.6,"strokeCap":"round","strokeDash":[0.1,7.2]},"encoding":{"order":{"field":"o"}}},
{"data":{"values":[{"o":0,"x":278,"y":275},{"o":1,"x":288,"y":259},{"o":2,"x":313,"y":242},{"o":3,"x":333,"y":233},{"o":4,"x":363,"y":229},{"o":5,"x":387,"y":231},{"o":6,"x":420,"y":238},{"o":7,"x":447,"y":260},{"o":8,"x":457,"y":287},{"o":9,"x":450,"y":308},{"o":10,"x":427,"y":328},{"o":11,"x":403,"y":338},{"o":12,"x":367,"y":343},{"o":13,"x":337,"y":340},{"o":14,"x":310,"y":330},{"o":15,"x":288,"y":312},{"o":16,"x":279,"y":295}]},"mark":{"type":"line","interpolate":"cardinal-closed","stroke":"#a5111f","strokeWidth":2.6,"strokeCap":"round","strokeDash":[0.1,7.2]},"encoding":{"order":{"field":"o"}}},
{"data":{"values":[{"o":0,"x":5,"y":432},{"o":1,"x":20,"y":398},{"o":2,"x":43,"y":385},{"o":3,"x":67,"y":380},{"o":4,"x":100,"y":382},{"o":5,"x":123,"y":388},{"o":6,"x":143,"y":398},{"o":7,"x":152,"y":415},{"o":8,"x":157,"y":440},{"o":9,"x":140,"y":468},{"o":10,"x":110,"y":485},{"o":11,"x":75,"y":490},{"o":12,"x":40,"y":480},{"o":13,"x":15,"y":460}]},"mark":{"type":"line","interpolate":"cardinal-closed","stroke":"#5a5adf","strokeWidth":2.6,"strokeCap":"round","strokeDash":[0.1,7.2]},"encoding":{"order":{"field":"o"}}},
{"data":{"values":[{"o":0,"x":243,"y":390},{"o":1,"x":257,"y":371},{"o":2,"x":288,"y":350},{"o":3,"x":320,"y":343},{"o":4,"x":353,"y":342},{"o":5,"x":377,"y":343},{"o":6,"x":407,"y":353},{"o":7,"x":433,"y":372},{"o":8,"x":450,"y":392},{"o":9,"x":450,"y":397},{"o":10,"x":437,"y":428},{"o":11,"x":412,"y":447},{"o":12,"x":377,"y":458},{"o":13,"x":333,"y":458},{"o":14,"x":292,"y":450},{"o":15,"x":263,"y":435},{"o":16,"x":243,"y":405}]},"mark":{"type":"line","interpolate":"cardinal-closed","stroke":"#1c6e2b","strokeWidth":2.6,"strokeCap":"round","strokeDash":[0.1,7.2]},"encoding":{"order":{"field":"o"}}},
{"data":{"values":[{"o":0,"x":447,"y":365},{"o":1,"x":463,"y":352},{"o":2,"x":493,"y":344},{"o":3,"x":517,"y":348},{"o":4,"x":547,"y":370},{"o":5,"x":572,"y":417},{"o":6,"x":578,"y":457},{"o":7,"x":572,"y":507},{"o":8,"x":555,"y":542},{"o":9,"x":533,"y":565},{"o":10,"x":500,"y":578},{"o":11,"x":477,"y":577},{"o":12,"x":445,"y":557},{"o":13,"x":420,"y":517},{"o":14,"x":412,"y":477},{"o":15,"x":413,"y":423},{"o":16,"x":423,"y":398}]},"mark":{"type":"line","interpolate":"cardinal-closed","stroke":"#9e1b2a","strokeWidth":2.6,"strokeCap":"round","strokeDash":[0.1,7.2]},"encoding":{"order":{"field":"o"}}},
{"data":{"name":"nodes"},"mark":{"type":"point","shape":"circle","filled":true,"size":150,"strokeWidth":2.5,"opacity":1},"encoding":{"fill":{"field":"p","type":"nominal","legend":null,"scale":{"domain":["R","r","k","n","G","g","L"],"range":["#ff0033","#ff4466","#ff9fb0","#999999","#22c800","#55e055","#00ff00"]}},"stroke":{"field":"e","type":"nominal","legend":null,"scale":{"domain":["R","r","G","g","n","L"],"range":["#ff0033","#ffc0c8","#33cc11","#b0f0a0","#999999","#00ff00"]}}}},
{"data":{"values":[{"x":276,"y":411}]},"mark":{"type":"point","shape":"circle","size":784,"stroke":"#ff0022","strokeWidth":2.6,"strokeDash":[5,3.2],"opacity":1,"fill":null}},
{"data":{"name":"nodes"},"mark":{"type":"text","fontSize":7.5,"fill":"#222"},"encoding":{"text":{"field":"n"}}},
{"data":{"values":[{"x":199,"y":277,"t":"Focal adhesion"},{"x":437,"y":269,"t":"RTK signaling"},{"x":62,"y":435,"t":"actin/myosin"},{"x":350,"y":445,"t":"central processing"},{"x":522,"y":467,"t":"microtubuli"}]},"mark":{"type":"text","fontSize":13,"fontWeight":"bold","fill":"#111","baseline":"middle"},"encoding":{"text":{"field":"t"}}},
{"data":{"values":[{"x":5,"y":8,"t":"a"},{"x":522,"y":8,"t":"b"},{"x":5,"y":243,"t":"c"}]},"mark":{"type":"text","fontSize":13,"fontWeight":"bold","fill":"#000","baseline":"middle"},"encoding":{"text":{"field":"t"}}},
{"data":{"values":[{"x":537.7,"x2":627.7,"y":250,"y2":346}]},"mark":{"type":"rect","fill":"white","stroke":"#555","strokeWidth":1,"cornerRadius":10},"encoding":{"x2":{"field":"x2"},"y2":{"field":"y2"}}},
{"data":{"values":[{"x":558,"y":277,"p":"R","e":"n"},{"x":602,"y":277,"p":"L","e":"n"},{"x":558,"y":323,"p":"n","e":"R"},{"x":602,"y":323,"p":"n","e":"L"}]},"mark":{"type":"point","shape":"circle","filled":true,"size":256,"strokeWidth":2.5,"opacity":1},"encoding":{"fill":{"field":"p","type":"nominal","legend":null},"stroke":{"field":"e","type":"nominal","legend":null}}},
{"data":{"values":[{"x":572.7,"y":270,"y2":285},{"x":588,"y":268,"y2":283},{"x":572.7,"y":318,"y2":333},{"x":588,"y":316,"y2":331}]},"mark":{"type":"rule","stroke":"#111","strokeWidth":1},"encoding":{"y2":{"field":"y2"}}},
{"data":{"values":[{"x":572.7,"y":270},{"x":572.7,"y":318}]},"mark":{"type":"point","shape":"triangle-up","filled":true,"size":14,"fill":"#111","opacity":1}},
{"data":{"values":[{"x":588,"y":283},{"x":588,"y":331}]},"mark":{"type":"point","shape":"triangle-down","filled":true,"size":14,"fill":"#111","opacity":1}},
{"data":{"values":[{"x":581,"y":259,"t":"phosphorylation"},{"x":581,"y":306,"t":"gene expression"}]},"mark":{"type":"text","fontSize":8.5,"fontWeight":"bold","fill":"#111","baseline":"middle"},"encoding":{"text":{"field":"t"}}},
{"data":{"values":[{"x":583,"y":291,"t":"up down"},{"x":583,"y":338,"t":"up down"}]},"mark":{"type":"text","fontSize":7.5,"fontWeight":"bold","fill":"#111","baseline":"middle"},"encoding":{"text":{"field":"t"}}}
]}
]}
